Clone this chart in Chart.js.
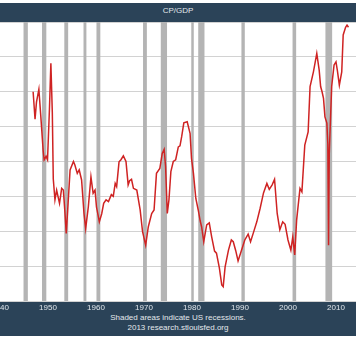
<!DOCTYPE html>
<html lang="en">
<head>
<meta charset="UTF-8">
<title>CP/GDP</title>
<style>
  html, body { margin: 0; padding: 0; background: #fff; overflow: hidden; }
  body { font-family: "Liberation Sans", Arial, sans-serif; }
  #wrap { position: relative; width: 356px; height: 339px; overflow: hidden; }
  .band { position: absolute; left: 0; width: 356px; background: #2b4358; color: #e3e8ec; text-align: center; font-size: 8px; }
  #head { top: 3px; height: 19px; line-height: 16px; }
  #foot { top: 301px; height: 35px; }
  #foot p { margin: 0; padding-top: 12px; line-height: 10px; }
  #chart { position: absolute; left: -30px; top: 0; }
</style>
<script src="https://cdn.jsdelivr.net/npm/chart.js"></script>
</head>
<body>
<div id="wrap">
  <div class="band" id="head">CP/GDP</div>
  <div class="band" id="foot"><p>Shaded areas indicate US recessions.<br>2013 research.stlouisfed.org</p></div>
  <canvas id="chart" width="386" height="339"></canvas>
</div>
<script>
// corporate profits after tax as a share of GDP, percent
const years = [
  1946.9, 1947.3, 1947.6, 1948.1, 1948.5, 1949.0, 1949.2, 1949.6, 1949.9, 1950.3,
  1950.6, 1950.9, 1951.1, 1951.45, 1951.8, 1952.4, 1952.85, 1953.2, 1953.5, 1953.8,
  1954.1, 1954.6, 1955.3, 1955.6, 1956.1, 1956.5, 1957.0, 1957.5, 1957.85, 1958.4,
  1958.95, 1959.4, 1959.8, 1960.1, 1960.7, 1961.2, 1961.6, 1962.1, 1962.6, 1963.2,
  1963.6, 1964.0, 1964.3, 1964.8, 1965.2, 1965.7, 1966.25, 1966.7, 1967.0, 1967.4,
  1967.8, 1968.5, 1969.2, 1969.7, 1970.35, 1970.9, 1971.6, 1972.1, 1972.6, 1973.3,
  1973.8, 1974.2, 1974.5, 1974.85, 1975.2, 1975.6, 1976.1, 1976.6, 1977.15, 1977.5,
  1977.85, 1978.3, 1979.0, 1979.6, 1979.9, 1980.3, 1980.8, 1981.3, 1981.7, 1982.0,
  1982.45, 1983.06, 1983.6, 1984.1, 1984.7, 1985.1, 1985.7, 1986.2, 1986.5, 1986.9,
  1987.6, 1988.2, 1988.6, 1989.1, 1989.6, 1990.3, 1991.0, 1991.7, 1992.2, 1992.8,
  1993.5, 1994.2, 1994.9, 1995.6, 1996.1, 1996.7, 1997.2, 1997.75, 1998.3, 1998.9,
  1999.4, 2000.0, 2000.6, 2001.0, 2001.4, 2001.8, 2002.5, 2002.9, 2003.5, 2004.2,
  2004.6, 2005.3, 2006.0, 2006.5, 2006.8, 2007.1, 2007.4, 2007.7, 2008.1, 2008.3,
  2008.45, 2008.6, 2009.1, 2009.6, 2010.0, 2010.3, 2010.7, 2011.2, 2011.5, 2012.0,
  2012.3, 2012.6
];
const cpGdp = [
  9.00, 8.21, 8.70, 9.07, 8.30, 7.30, 7.05, 7.15, 7.05, 8.50,
  9.82, 8.40, 6.50, 5.90, 6.18, 5.80, 6.23, 6.18, 5.60, 4.94,
  5.60, 6.76, 7.00, 6.90, 6.66, 6.76, 6.47, 5.51, 5.08, 5.70,
  6.56, 6.09, 6.18, 5.70, 5.27, 5.51, 5.80, 5.90, 5.85, 6.05,
  6.00, 6.37, 6.28, 6.99, 7.05, 7.16, 7.00, 6.33, 6.45, 6.49,
  6.23, 6.18, 5.61, 4.99, 4.60, 5.13, 5.51, 5.61, 6.66, 6.80,
  7.23, 7.35, 6.85, 5.51, 5.90, 6.71, 7.00, 7.05, 7.42, 7.45,
  7.71, 8.11, 8.14, 7.81, 7.09, 6.66, 5.94, 5.61, 5.30, 5.13,
  4.70, 5.18, 5.24, 4.84, 4.43, 4.37, 3.95, 3.46, 3.41, 3.98,
  4.46, 4.75, 4.70, 4.45, 4.15, 4.45, 4.75, 4.92, 4.70, 4.96,
  5.27, 5.66, 6.10, 6.37, 6.20, 6.33, 6.49, 5.51, 5.04, 5.27,
  5.20, 4.75, 4.46, 4.84, 4.32, 5.32, 6.23, 6.13, 7.47, 7.85,
  9.15, 9.57, 10.10, 9.62, 9.15, 9.00, 8.81, 8.28, 8.10, 7.50,
  4.60, 7.23, 9.15, 9.77, 9.86, 9.60, 9.19, 9.57, 10.63, 10.85,
  10.91, 10.85
];

// US recessions (shaded)
const recessionStart = [1944.9, 1948.75, 1953.4, 1957.4, 1960.1, 1969.8, 1973.5, 1979.85, 1981.3, 1990.3, 2000.95, 2007.8];
const recessionEnd   = [1945.8, 1949.65, 1954.2, 1958.0, 1960.9, 1970.6, 1974.8, 1980.3, 1982.6, 1991.0, 2001.7, 2009.2];

const xTicks = [1940, 1950, 1960, 1970, 1980, 1990, 2000, 2010];

const points = years.map((y, i) => ({ x: y, y: cpGdp[i] }));

const recessionShading = {
  id: 'recessionShading',
  beforeDatasetsDraw(chart) {
    const { ctx, chartArea, scales } = chart;
    ctx.save();
    ctx.fillStyle = '#b4b4b4';
    recessionStart.forEach((s, i) => {
      const x0 = scales.x.getPixelForValue(s);
      const x1 = scales.x.getPixelForValue(recessionEnd[i]);
      ctx.fillRect(x0, chartArea.top, Math.max(x1 - x0, 2.5), chartArea.bottom - chartArea.top);
    });
    ctx.restore();
  }
};

new Chart(document.getElementById('chart'), {
  type: 'line',
  data: {
    datasets: [{
      label: 'CP/GDP',
      data: points,
      borderColor: '#cf2323',
      borderWidth: 1.5,
      pointRadius: 0,
      tension: 0,
      fill: false
    }]
  },
  options: {
    responsive: false,
    animation: false,
    layout: { padding: { left: 30, top: 22, right: 0, bottom: 0 } },
    plugins: { legend: { display: false }, tooltip: { enabled: false } },
    scales: {
      x: {
        type: 'linear',
        min: 1940,
        max: 2014.17,
        afterBuildTicks(scale) { scale.ticks = xTicks.map(v => ({ value: v })); },
        afterFit(scale) { scale.height = 38; },
        grid: { display: false, drawTicks: false },
        border: { display: false },
        ticks: {
          padding: 2,
          color: '#dfe5ea',
          font: { family: 'Liberation Sans', size: 8 },
          callback: v => String(v),
          maxRotation: 0,
          autoSkip: false
        }
      },
      y: {
        min: 3,
        max: 11,
        afterFit(scale) { scale.width = 0; },
        ticks: { display: false, stepSize: 1 },
        grid: { color: '#d2d2d2', lineWidth: 1, drawTicks: false },
        border: { display: false }
      }
    }
  },
  plugins: [recessionShading]
});
</script>
</body>
</html>
